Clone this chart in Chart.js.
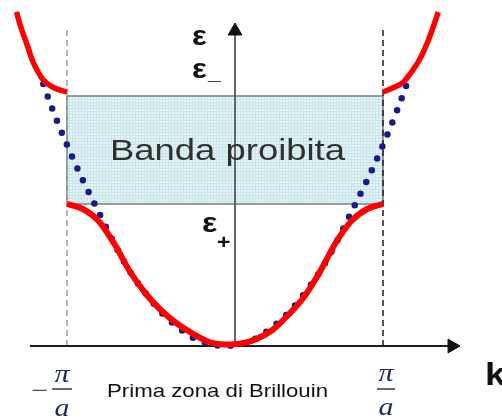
<!DOCTYPE html>
<html>
<head>
<meta charset="utf-8">
<script src="https://cdn.jsdelivr.net/npm/chart.js@4.4.0/dist/chart.umd.min.js"></script>
<style>
  html, body { margin: 0; padding: 0; background: #fff; }
  #wrap { width: 502px; height: 419px; }
</style>
</head>
<body>
<div id="wrap"><canvas id="bandChart"></canvas></div>
<script>
// k in units of pi/a, energy in arbitrary units (0 = bottom of the band)
const kBand = [-1, -0.9, -0.8, -0.7, -0.6, -0.5, -0.4, -0.3, -0.2, -0.1, 0, 0.1, 0.2, 0.3, 0.4, 0.5, 0.6, 0.7, 0.8, 0.9, 1];
const eBand = [0.71, 0.685, 0.625, 0.51, 0.37, 0.26, 0.175, 0.11, 0.06, 0.02, 0.008, 0.012, 0.035, 0.08, 0.155, 0.245, 0.37, 0.515, 0.625, 0.685, 0.71];

// second band, outside the first zone
const kUpperLeft = [-1.32, -1.29, -1.25, -1.22, -1.19, -1.15, -1.08, -1.0];
const eUpperLeft = [1.67, 1.59, 1.50, 1.43, 1.38, 1.33, 1.29, 1.27];
const kUpperRight = [1.0, 1.06, 1.13, 1.18, 1.23, 1.28, 1.32, 1.35];
const eUpperRight = [1.27, 1.29, 1.32, 1.37, 1.43, 1.515, 1.60, 1.67];

// free electron parabola (dotted)
const kFree = [-1.15, -1.1, -1.0, -0.9, -0.8, -0.7, -0.6, -0.5, -0.4, -0.3, -0.2, -0.1, 0, 0.1, 0.2, 0.3, 0.4, 0.5, 0.6, 0.7, 0.8, 0.9, 1.0, 1.1, 1.16];
const eFree = [1.31, 1.20, 1.005, 0.83, 0.67, 0.51, 0.37, 0.26, 0.165, 0.095, 0.04, 0.01, 0, 0.01, 0.04, 0.095, 0.165, 0.26, 0.37, 0.51, 0.67, 0.83, 1.005, 1.20, 1.33];

// forbidden gap and zone edges
const gapBottom = 0.71;
const gapTop = 1.25;
const zoneEdges = [-1, 1];
const zoneLineTop = 1.595;

// axes (k axis with arrow, energy axis with arrow)
const kAxisRange = [-1.234, 1.437];
const eAxisPos = 0.0633;
const eAxisRange = [0, 1.575];

function pts(xs, ys) {
  return xs.map((x, i) => ({ x: x, y: ys[i] }));
}

// light cyan grid fill of the gap box
function gapPattern() {
  const c = document.createElement("canvas");
  c.width = 3; c.height = 3;
  const g = c.getContext("2d");
  g.fillStyle = "#e4f3f6";
  g.fillRect(0, 0, 3, 3);
  g.fillStyle = "#cbe5eb";
  g.fillRect(0, 0, 3, 1);
  g.fillRect(0, 0, 1, 3);
  return document.getElementById("bandChart").getContext("2d").createPattern(c, "repeat");
}

const rectPts = [
  { x: zoneEdges[0], y: gapBottom }, { x: zoneEdges[0], y: gapTop },
  { x: zoneEdges[1], y: gapTop }, { x: zoneEdges[1], y: gapBottom },
  { x: zoneEdges[0], y: gapBottom }
];

// text labels drawn on top of the curves
const labelPlugin = {
  id: "bandLabels",
  afterDatasetsDraw(chart) {
    const ctx = chart.ctx;
    const xs = chart.scales.x;
    const stretch = 1.15;

    function text(str, x, y, font, color, align, width) {
      ctx.save();
      ctx.font = font;
      ctx.fillStyle = color;
      ctx.textBaseline = "alphabetic";
      let sx = stretch;
      if (width) sx = width / ctx.measureText(str).width;
      ctx.translate(x, y);
      ctx.scale(sx, 1);
      ctx.textAlign = align || "left";
      ctx.fillText(str, 0, 0);
      ctx.restore();
    }

    function bar(x1, x2, y, color) {
      ctx.save();
      ctx.strokeStyle = color;
      ctx.lineWidth = 1.5;
      ctx.beginPath();
      ctx.moveTo(x1, y);
      ctx.lineTo(x2, y);
      ctx.stroke();
      ctx.restore();
    }

    text("Banda proibita", 110, 160, '30px "Liberation Sans"', "#303030", "left", 235);
    text("Prima zona di Brillouin", 107, 397, '19px "Liberation Sans"', "#111", "left", 221);

    text("ε", 192, 45, 'bold 27px "Liberation Sans"', "#111");
    text("ε", 192, 78, 'bold 27px "Liberation Sans"', "#111");
    text("_", 208, 79, 'bold 20px "Liberation Sans"', "#111");
    text("ε", 202, 232, 'bold 28px "Liberation Sans"', "#111");
    text("+", 217, 249, 'bold 20px "Liberation Sans"', "#111");

    // -pi/a and pi/a under the zone edges
    const left = xs.getPixelForValue(zoneEdges[0]) - 5;
    const right = xs.getPixelForValue(zoneEdges[1]) + 3;
    const piFont = 'italic 26px "Liberation Serif"';
    const piColor = "#1d2a55";
    text("−", 40, 399, '26px "Liberation Serif"', "#555", "center");
    text("π", left, 382, piFont, piColor, "center");
    bar(left - 10, left + 10, 389, "#333");
    text("a", left, 416, piFont, piColor, "center");
    text("π", right, 381, piFont, piColor, "center");
    bar(right - 9, right + 9, 389, "#333");
    text("a", right, 415, piFont, piColor, "center");

    text("k", 485, 385, 'bold 32px "Liberation Sans"', "#111");
  }
};

new Chart(document.getElementById("bandChart"), {
  type: "line",
  data: {
    datasets: [
      {
        data: pts(kBand, eBand),
        borderColor: "#ff0000", borderWidth: 6,
        cubicInterpolationMode: "monotone", pointRadius: 0, order: 1
      },
      {
        data: pts(kUpperLeft, eUpperLeft),
        borderColor: "#ff0000", borderWidth: 5.5,
        cubicInterpolationMode: "monotone", pointRadius: 0, order: 1
      },
      {
        data: pts(kUpperRight, eUpperRight),
        borderColor: "#ff0000", borderWidth: 5.5,
        cubicInterpolationMode: "monotone", pointRadius: 0, order: 1
      },
      {
        data: pts(kFree, eFree),
        borderColor: "#1a1a88", borderWidth: 6.5,
        borderDash: [0, 13], borderCapStyle: "round",
        cubicInterpolationMode: "monotone", pointRadius: 0, order: 3
      },
      {
        // k axis
        data: pts(kAxisRange, [0, 0]),
        borderColor: "#1e1e1e", borderWidth: 2,
        pointRadius: [0, 8], pointStyle: "triangle", pointRotation: 90,
        pointBackgroundColor: "#111", pointBorderColor: "#111", pointBorderWidth: 1,
        order: 4
      },
      {
        // energy axis
        data: pts([eAxisPos, eAxisPos], eAxisRange),
        borderColor: "#555", borderWidth: 1.8,
        pointRadius: [0, 8], pointStyle: "triangle", pointRotation: 0,
        pointBackgroundColor: "#111", pointBorderColor: "#111", pointBorderWidth: 1,
        order: 4
      },
      {
        data: pts([zoneEdges[0], zoneEdges[0]], [0, zoneLineTop]),
        borderColor: "#a5a5a5", borderWidth: 1.6, borderDash: [6, 4],
        pointRadius: 0, order: 5
      },
      {
        data: pts([zoneEdges[1], zoneEdges[1]], [0, zoneLineTop]),
        borderColor: "#2a2a2a", borderWidth: 1.6, borderDash: [6, 4],
        pointRadius: 0, order: 5
      },
      {
        data: rectPts,
        borderColor: "#7c7c7c", borderWidth: 1.6,
        backgroundColor: gapPattern(), fill: "shape",
        pointRadius: 0, order: 6
      }
    ]
  },
  options: {
    responsive: true,
    maintainAspectRatio: false,
    animation: false,
    devicePixelRatio: 1,
    layout: { padding: 0, autoPadding: false },
    plugins: {
      legend: { display: false },
      tooltip: { enabled: false }
    },
    scales: {
      x: { type: "linear", min: -1.4241, max: 1.7532, display: false },
      y: { type: "linear", min: -0.365, max: 1.73, display: false }
    }
  },
  plugins: [labelPlugin]
});
</script>
</body>
</html>
